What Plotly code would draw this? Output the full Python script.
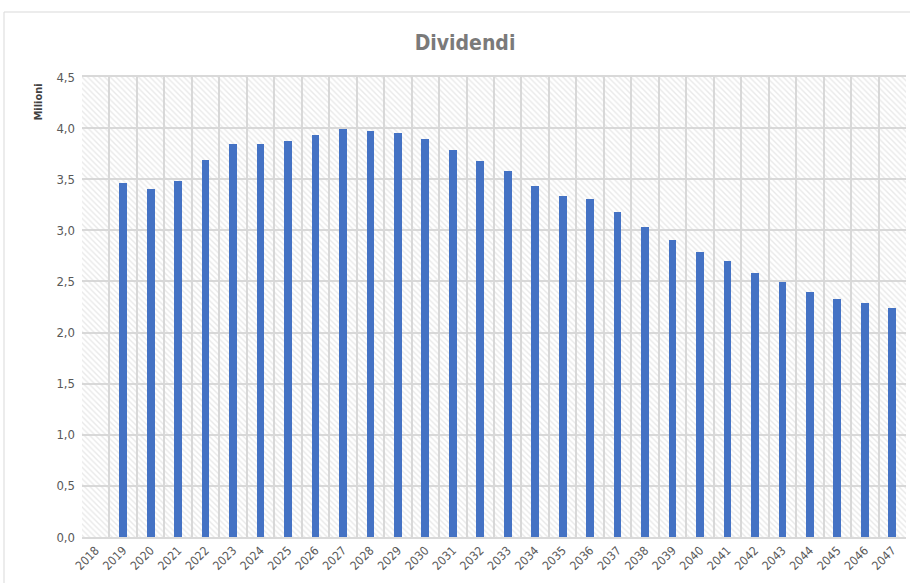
import plotly.graph_objects as go

years = [str(y) for y in range(2018, 2048)]
dividendi = [None, 3.46, 3.40, 3.48, 3.69, 3.84, 3.84, 3.87, 3.93, 3.99,
             3.97, 3.95, 3.89, 3.79, 3.68, 3.58, 3.43, 3.34, 3.31, 3.18,
             3.03, 2.91, 2.79, 2.70, 2.58, 2.49, 2.40, 2.33, 2.29, 2.24]
y_ticks = [0.0, 0.5, 1.0, 1.5, 2.0, 2.5, 3.0, 3.5, 4.0, 4.5]
y_max = 4.5

FONT = "Liberation Sans Narrow, Arial Narrow, DejaVu Sans Condensed, Liberation Sans, sans-serif"
GRID = "#d9d9d9"

fig = go.Figure()

# hatched plot-area background (one full-width cell per category)
fig.add_trace(go.Bar(
    x=years, y=[y_max] * len(years), width=1,
    marker=dict(color="rgba(0,0,0,0)", line=dict(width=0),
                pattern=dict(shape="\\", fgcolor="#d4d4d4", bgcolor="rgba(0,0,0,0)",
                             size=4, solidity=0.35)),
    hoverinfo="skip", showlegend=False,
))

fig.add_trace(go.Bar(
    x=years, y=dividendi, width=0.28,
    marker=dict(color="#4472C4", line=dict(width=0)),
    showlegend=False, name="Dividendi",
))

fig.update_layout(
    width=910, height=583,
    margin=dict(l=82, r=4, t=77, b=46, autoexpand=False),
    paper_bgcolor="white", plot_bgcolor="white",
    barmode="overlay", bargap=0,
    separators=", ",
    hovermode=False,
    font=dict(family=FONT, color="#595959", size=12),
    title=dict(text="<b>Dividendi</b>", x=465 / 910, xanchor="center", xref="container",
               y=1 - 43 / 583, yref="container", yanchor="middle",
               font=dict(family=FONT, size=21, color="#7a7a7a")),
    xaxis=dict(type="category", tickson="boundaries", showgrid=True,
               gridcolor=GRID, gridwidth=1.5, showline=True, linecolor=GRID,
               linewidth=1.5, mirror=True, tickangle=-45, ticks="",
               tickfont=dict(family=FONT, size=12, color="#595959"),
               automargin=False),
    yaxis=dict(range=[0, y_max], tickvals=y_ticks, tickformat=".1f",
               showgrid=True, gridcolor=GRID, gridwidth=1.5, zeroline=False,
               showline=False, ticks="", ticklabelstandoff=6,
               tickfont=dict(family=FONT, size=13, color="#595959"),
               automargin=False),
    annotations=[dict(text="<b>Milioni</b>", textangle=-90, xref="paper", yref="paper",
                      x=-0.054, y=(537 - 102) / 460, xanchor="center", yanchor="middle",
                      showarrow=False, font=dict(family=FONT, size=11, color="#404040"))],
    shapes=[dict(type="rect", xref="paper", yref="paper",
                 x0=(4 - 82) / 824, x1=1.2, y0=-0.3, y1=(537 - 12) / 460,
                 line=dict(color="#d9d9d9", width=1), fillcolor="rgba(0,0,0,0)",
                 layer="below")],
)

fig.write_html("out.html", config={"displayModeBar": False},
               post_script="document.body.style.margin='0';document.body.style.overflow='hidden';")
